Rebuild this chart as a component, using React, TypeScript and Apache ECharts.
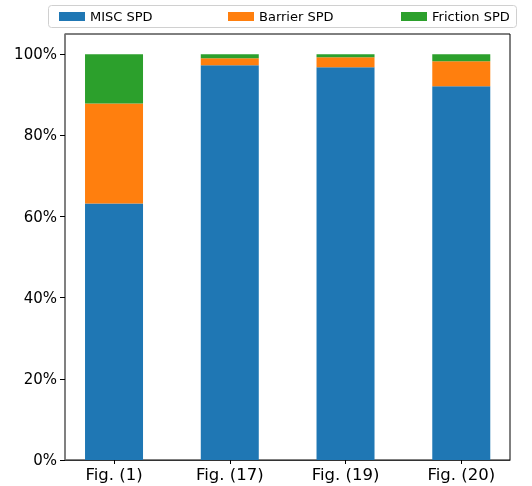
import React, { useEffect, useRef } from "react";
import * as echarts from "echarts";

const categories = ["Fig. (1)", "Fig. (17)", "Fig. (19)", "Fig. (20)"];
const miscSPD = [63.2, 97.3, 96.8, 92.1];
const barrierSPD = [24.7, 1.7, 2.5, 6.2];
const frictionSPD = [12.1, 1.0, 0.7, 1.7];
const yTicks = [0, 20, 40, 60, 80, 100];
const seriesNames = ["MISC SPD", "Barrier SPD", "Friction SPD"];
const colors = ["#1f77b4", "#ff7f0e", "#2ca02c"];

const FONT = "DejaVu Sans";

export default function App() {
  const ref = useRef<HTMLDivElement>(null);
  useEffect(() => {
    if (!ref.current) return;
    const chart = echarts.init(ref.current, undefined, { renderer: "svg" });
    const legendLefts = [59, 228, 401];
    chart.setOption({
      animation: false,
      color: colors,
      textStyle: { fontFamily: FONT },
      graphic: [
        {
          type: "rect",
          shape: { x: 48.5, y: 5.5, width: 468, height: 22, r: 3 },
          style: { fill: "#fff", stroke: "#d0d0d0", lineWidth: 1 },
          z: -1,
        },
      ],
      legend: seriesNames.map((n, i) => ({
        data: [{ name: n, icon: "rect" }],
        left: legendLefts[i],
        top: 10,
        padding: 0,
        itemWidth: 26,
        itemHeight: 9,
        textStyle: { fontFamily: FONT, fontSize: 13, color: "#000" },
      })),
      grid: [
        // bars grid (bands sized to match the reference bar spacing)
        { left: 56.15, right: 12.85, top: 34, bottom: 26 },
        // frame grid
        {
          left: 65,
          right: 22,
          top: 34,
          bottom: 26,
          show: true,
          borderColor: "#000",
          borderWidth: 1,
          backgroundColor: "transparent",
        },
      ],
      xAxis: [
        {
          type: "category",
          gridIndex: 0,
          data: categories,
          axisLine: { show: false },
          axisTick: {
            show: true,
            alignWithLabel: true,
            length: 4,
            lineStyle: { color: "#000" },
          },
          axisLabel: {
            margin: 6,
            fontSize: 16.5,
            color: "#000",
            fontFamily: FONT,
          },
        },
        {
          type: "value",
          gridIndex: 1,
          min: 0,
          max: 1,
          splitLine: { show: false },
          axisLine: { show: true, lineStyle: { color: "#333", width: 1 } },
          axisTick: { show: false },
          axisLabel: { show: false },
        },
      ],
      yAxis: [
        {
          type: "value",
          gridIndex: 0,
          min: 0,
          max: 105,
          show: false,
          splitLine: { show: false },
        },
        {
          type: "value",
          gridIndex: 1,
          min: 0,
          max: 105,
          splitLine: { show: false },
          axisLine: { show: true, onZero: false, lineStyle: { color: "#808080", width: 1.5 } },
          axisTick: {
            show: true,
            length: 5,
            customValues: yTicks,
            lineStyle: { color: "#000" },
          },
          axisLabel: {
            customValues: yTicks,
            margin: 8,
            fontSize: 15,
            color: "#000",
            fontFamily: FONT,
            formatter: (v: number) => `${v}%`,
          },
        },
      ],
      series: [
        { name: seriesNames[0], type: "bar", stack: "t", barWidth: 58, xAxisIndex: 0, yAxisIndex: 0, data: miscSPD },
        { name: seriesNames[1], type: "bar", stack: "t", barWidth: 58, xAxisIndex: 0, yAxisIndex: 0, data: barrierSPD },
        { name: seriesNames[2], type: "bar", stack: "t", barWidth: 58, xAxisIndex: 0, yAxisIndex: 0, data: frictionSPD },
      ],
    });
    return () => chart.dispose();
  }, []);
  return <div ref={ref} style={{ width: 532, height: 486, position: "fixed", left: 0, top: 0 }} />;
}
